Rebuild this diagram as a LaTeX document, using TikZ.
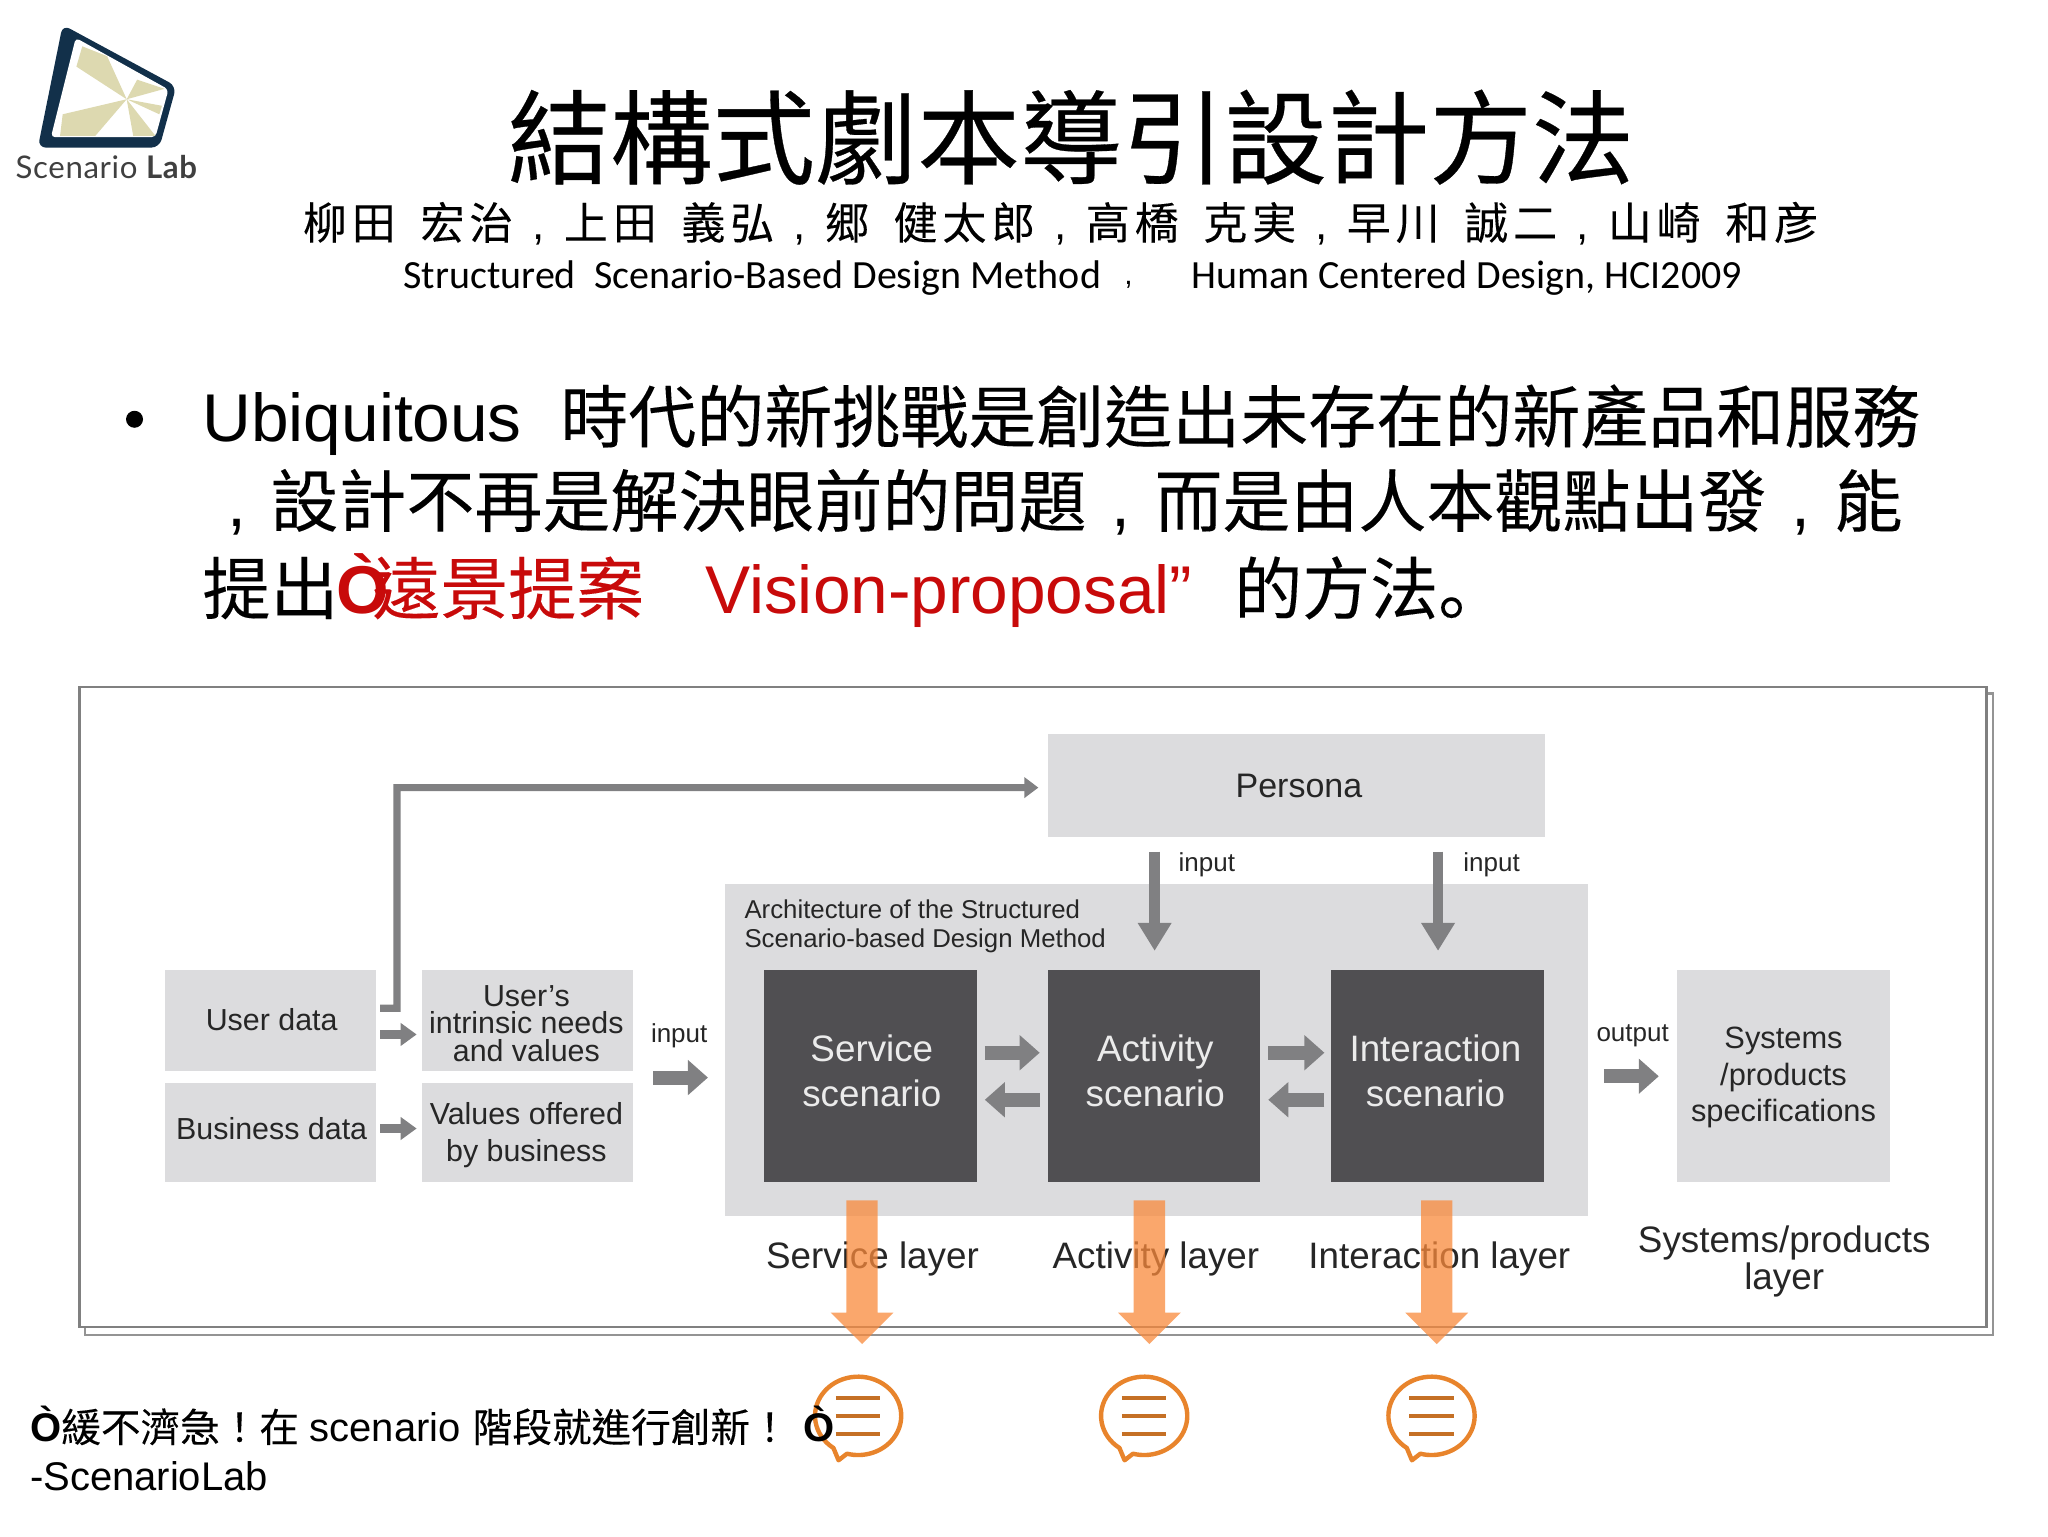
\documentclass[tikz,border=0pt]{standalone}
\usepackage{fontspec}
\usetikzlibrary{arrows.meta,calc}
\setmainfont{Liberation Sans}
\newfontfamily\cjk[FakeBold=0.15]{Noto Sans CJK TC}
\newfontfamily\cjktitle[FakeBold=0.3]{Noto Sans CJK TC}
\newfontfamily\cjkjp[FakeBold=0.15]{Noto Sans CJK JP}
\newfontfamily\cjkwide[LetterSpace=11,FakeBold=0.1]{Noto Sans CJK TC}
\newfontfamily\cali{Carlito}
\newfontfamily\logofont[LetterSpace=2]{Lato}
\newcommand\sz[2]{\fontsize{#1}{#2}\selectfont}
\newcommand\lowcomma{\makebox[1em][c]{\rmfamily ,}}
\newcommand\authcomma{\makebox[1.15em][c]{\rmfamily ,}}
\newcommand\authgap{\ \hspace{5pt}}
\newlength\unitpx
\setlength\unitpx{0.65306pt}
\definecolor{panel}{HTML}{DCDCDE}
\definecolor{darkbox}{HTML}{504F52}
\definecolor{arrowgray}{HTML}{808082}
\definecolor{redtxt}{HTML}{C80A0A}
\definecolor{orangefill}{HTML}{F98A3C}
\definecolor{orangeline}{HTML}{E8842C}
\definecolor{navy}{HTML}{12304A}
\definecolor{beige}{HTML}{DDD9B0}
\tikzset{
  x=0.65306pt, y=-0.65306pt,
  txt/.style={inner sep=0pt, outer sep=0pt},
  panelbox/.style={fill=panel, draw=none, inner sep=0pt, outer sep=0pt, align=center, text=black!85},
  darkscen/.style={fill=darkbox, draw=none, inner sep=0pt, outer sep=0pt, minimum width=163\unitpx, minimum height=162\unitpx},
  scenlabel/.style={txt, align=center, text=white!92!black, font=\sz{18.4}{22.3}},
  small/.style={txt, text=black!85, font=\sz{13}{14.4}},
  layer/.style={txt, text=black!85, align=center, font=\sz{18.4}{18.4}},
  body/.style={txt, anchor=base west, font=\cjk\sz{34}{40}},
  bodylat/.style={txt, anchor=base west, font=\sz{33.8}{40}},
  foot/.style={txt, anchor=base west, font=\sz{20}{24}},
  footcjk/.style={txt, anchor=base west, font=\cjk\sz{19.8}{24}},
  pathgray/.style={draw=arrowgray, line width=3.6pt, -{Triangle[length=7pt,width=10pt]}},
  smallgray/.style={draw=arrowgray, line width=4.2pt, -{Triangle[length=8pt,width=11pt]}},
  medgray/.style={draw=arrowgray, line width=7pt, -{Triangle[length=10pt,width=17pt]}},
  downgray/.style={draw=arrowgray, line width=5.2pt, -{Triangle[length=14pt,width=16pt]}},
  orangearrow/.style={fill=orangefill, fill opacity=.75, draw=none},
  bubble/.style={draw=orangeline, line width=2.2pt, fill=white, line join=round},
  bubbleline/.style={draw=orangeline!85!black, line width=2pt},
}
\begin{document}
\begin{tikzpicture}
\useasboundingbox (0,0) rectangle (1568,1176);
\fill[white] (0,0) rectangle (1568,1176);

% logo
\fill[navy, rounded corners=4pt] (48,19) -- (135,66) -- (122,113) -- (29,113) -- cycle;
\fill[white, rounded corners=2pt] (58,29) -- (129,68.5) -- (119,105) -- (39,105) -- cycle;
\fill[beige] (63,35.5) -- (82,43) -- (97,76) -- (58.5,51) -- cycle;
\fill[beige] (105,61) -- (126,68) -- (97,76) -- cycle;
\fill[beige] (97,76) -- (124,81) -- (122,87.5) -- cycle;
\fill[beige] (97,76) -- (119,104) -- (102,104) -- cycle;
\fill[beige] (97,76) -- (73,104) -- (46,104) -- (48,87.5) -- cycle;
\node[txt, anchor=base west, text=black!75, font=\logofont\sz{15.6}{18}] (logotext) at (12,137) {Scenario {\bfseries Lab}};

% title block
\node[txt, font=\cjktitle\sz{51.2}{56}] (title) at (820,105) {結構式劇本導引設計方法};
\node[txt, font=\cjkwide\sz{22}{26}] (authors) at (812,171) {柳田\authgap 宏治\authcomma 上田\authgap 義弘\authcomma 郷\authgap 健太郎\authcomma 高橋\authgap 克実\authcomma 早川\authgap 誠二\authcomma 山崎\authgap 和彦};
\node[txt, anchor=base west, font=\cali\sz{20}{23}] (subone) at (309,221) {Structured\ \ Scenario-Based Design Method};
\node[txt, font=\rmfamily\sz{15}{20}] (subcomma) at (864,218) {,};
\node[txt, anchor=base west, font=\cali\sz{20}{23}] (subtwo) at (912,221) {Human Centered Design, HCI2009};

% bullet text
\fill (103,321) circle (6.5);
\node[bodylat] (ubi) at (155,338) {Ubiquitous};
\node[body] (lineone) at (429,338.5) {時代的新挑戰是創造出未存在的新產品和服務};
\node[body] (linetwo) at (155,403) {\lowcomma 設計不再是解決眼前的問題\lowcomma 而是由人本觀點出發\lowcomma 能};
\node[body] (linethreea) at (155,470) {提出};
\node[body, text=redtxt] (linethreeb) at (285,470) {遠景提案};
\node[bodylat, text=redtxt, font=\bfseries\sz{33.8}{40}] (linethreegrave) at (258,470) {Ò};
\node[bodylat, text=redtxt] (vision) at (540,470) {Vision-proposal”};
\node[body] (linethreec) at (945,470) {的方法{\cjkjp 。}};

% frame
\draw[draw=black!42, line width=1.3pt, fill=white] (65,531) rectangle (1526,1022);
\draw[draw=black!50, line width=1.4pt, fill=white] (61,526) rectangle (1521,1016);

% panels
\node[panelbox, minimum width=381\unitpx, minimum height=79\unitpx, font=\sz{17}{20}] (persona) at (992.5,601.5) {\hspace{2.6pt}Persona};
\fill[panel] (555,677) rectangle (1216,931);
\node[txt, anchor=north west, align=left, text=black!85, font=\sz{12.9}{14.4}] (archlabel) at (570,689) {Architecture of the Structured\\Scenario-based Design Method};

\node[darkscen] (service) at (666.5,824) {};
\node[darkscen] (activity) at (883.5,824) {};
\node[darkscen] (interaction) at (1100.5,824) {};
\node[scenlabel] (servicetext) at (667.5,820) {Service\\scenario};
\node[scenlabel] (activitytext) at (884.5,820) {Activity\\scenario};
\node[scenlabel] (interactiontext) at (1099,820) {Interaction\\scenario};

\node[panelbox, minimum width=162\unitpx, minimum height=77\unitpx] (userdata) at (207,781.5) {};
\node[txt, text=black!85, font=\sz{15.2}{18}] (userdatatext) at (208,781) {User data};
\node[panelbox, minimum width=162\unitpx, minimum height=76\unitpx] (bizdata) at (207,867) {};
\node[txt, text=black!85, font=\sz{15.2}{18}] (bizdatatext) at (208,864) {Business data};
\node[panelbox, minimum width=162\unitpx, minimum height=77\unitpx] (needs) at (404,781.5) {};
\node[txt, align=center, text=black!85, font=\sz{15.2}{13.8}] (needstext) at (403,783.5) {User's\\intrinsic needs\\and values};
\node[panelbox, minimum width=162\unitpx, minimum height=76\unitpx] (values) at (404,867) {};
\node[txt, align=center, text=black!85, font=\sz{15.2}{18.4}] (valuestext) at (403,869) {Values offered\\by business};
\node[panelbox, minimum width=163\unitpx, minimum height=162\unitpx] (systems) at (1365.5,824) {};
\node[txt, align=center, text=black!85, font=\sz{15.4}{18.4}] (systemstext) at (1365.5,825) {Systems\\/products\\specifications};

% gray connectors
\coordinate (udout) at ($(userdata.east)+(3,-9.5)$);
\coordinate (corner) at (304,772);
\coordinate (bend) at (304,603);
\coordinate (persin) at ($(persona.west)+(-7,1.5)$);
\draw[pathgray] (udout) -- (corner) -- (bend) -- (persin);
\draw[smallgray] ($(userdata.east)+(3,10.5)$) -- ($(needs.west)+(-4,10.5)$);
\draw[smallgray] ($(bizdata.east)+(3,-3)$) -- ($(values.west)+(-4,-3)$);
\draw[medgray] (500,825) -- (542,825);
\draw[medgray] ($(service.east)+(6,-18)$) -- ($(activity.west)+(-6,-18)$);
\draw[medgray] ($(activity.west)+(-6,18)$) -- ($(service.east)+(6,18)$);
\draw[medgray] ($(activity.east)+(6,-18)$) -- ($(interaction.west)+(-5,-18)$);
\draw[medgray] ($(interaction.west)+(-5,18)$) -- ($(activity.east)+(6,18)$);
\draw[medgray] (1228,824) -- (1270,824);
\draw[downgray] (884,652) -- (884,728);
\draw[downgray] (1101,652) -- (1101,728);

\node[small] (inputa) at (520,793) {input};
\node[small] (inputb) at (924,662) {input};
\node[small] (inputc) at (1142,662) {input};
\node[small] (outputa) at (1250,793) {output};

% layer labels
\node[layer] (servicelayer) at (668,964) {Service layer};
\node[layer] (activitylayer) at (885,964) {Activity layer};
\node[layer] (interactionlayer) at (1102,964) {Interaction layer};
\node[layer] (systemslayer) at (1366,966) {Systems/products\\layer};

% orange arrows
\foreach \cx in {660,880,1100}{
  \fill[orangearrow] (\cx-12,919) -- (\cx+12,919) -- (\cx+12,1005) -- (\cx+24,1005) -- (\cx,1029) -- (\cx-24,1005) -- (\cx-12,1005) -- cycle;
}

% speech bubbles
\foreach \cx/\cy in {657/1084,876/1084,1096/1084}{
  \draw[bubble] ({\cx+33*cos(125)},{\cy+30*sin(125)})
     arc[start angle=125, end angle=465, x radius=33, y radius=30]
     -- ({\cx-15},{\cy+34}) -- cycle;
  \draw[bubbleline] (\cx-17,\cy-14) -- (\cx+17,\cy-14);
  \draw[bubbleline] (\cx-17,\cy) -- (\cx+17,\cy);
  \draw[bubbleline] (\cx-17,\cy+14) -- (\cx+17,\cy+14);
}

% bottom quote
\node[foot, font=\bfseries\sz{20}{24}] (qa) at (23,1104) {Ò};
\node[footcjk] (qb) at (47,1104) {緩不濟急！在};
\node[foot] (qc) at (237,1104) {scenario};
\node[footcjk] (qd) at (362,1104) {階段就進行創新！};
\node[foot, font=\bfseries\sz{20}{24}] (qe) at (615,1104) {Ò};
\node[foot] (qf) at (23,1141) {-ScenarioLab};
\end{tikzpicture}
\end{document}
